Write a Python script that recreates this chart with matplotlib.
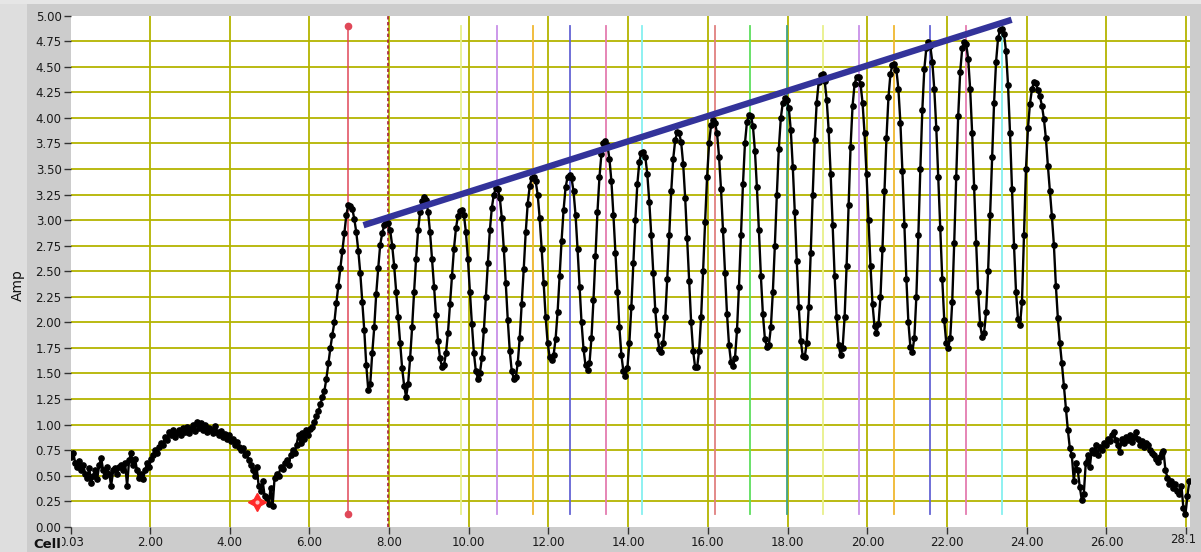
import numpy as np
import matplotlib.pyplot as plt
from matplotlib.patches import Rectangle

# waveform: first Cell value, spacing, then the Amp samples (one row = one Cell unit)
x0 = 0.03
dx = 0.05
amp = [
    0.68, 0.72, 0.62, 0.58, 0.64, 0.55, 0.60, 0.52, 0.48, 0.57, 0.43, 0.50, 0.55, 0.47, 0.60, 0.67, 0.55, 0.50, 0.58, 0.52,
    0.40, 0.55, 0.57, 0.52, 0.58, 0.60, 0.55, 0.62, 0.40, 0.65, 0.72, 0.60, 0.66, 0.55, 0.48, 0.52, 0.47, 0.55, 0.62, 0.58,
    0.66, 0.70, 0.75, 0.72, 0.78, 0.82, 0.80, 0.88, 0.85, 0.93, 0.90, 0.95, 0.88, 0.92, 0.95, 0.90, 0.97, 0.93, 0.98, 0.92,
    0.96, 1.00, 0.94, 1.02, 0.97, 1.01, 0.95, 1.00, 0.93, 0.97, 0.95, 0.92, 0.99, 0.93, 0.90, 0.94, 0.88, 0.91, 0.86, 0.90,
    0.84, 0.86, 0.80, 0.83, 0.78, 0.75, 0.77, 0.70, 0.72, 0.65, 0.60, 0.55, 0.50, 0.58, 0.40, 0.35, 0.45, 0.30, 0.28, 0.22,
    0.38, 0.20, 0.48, 0.52, 0.50, 0.58, 0.56, 0.62, 0.65, 0.60, 0.70, 0.75, 0.72, 0.80, 0.90, 0.82, 0.92, 0.86, 0.95, 0.90,
    0.96, 0.98, 1.02, 1.08, 1.13, 1.20, 1.27, 1.33, 1.45, 1.60, 1.75, 1.88, 2.00, 2.19, 2.36, 2.53, 2.70, 2.87, 3.05, 3.15,
    3.14, 3.11, 3.01, 2.88, 2.70, 2.48, 2.20, 1.92, 1.58, 1.34, 1.40, 1.70, 1.95, 2.28, 2.53, 2.76, 2.87, 2.95, 2.98, 2.97,
    2.90, 2.75, 2.55, 2.30, 2.05, 1.80, 1.55, 1.38, 1.27, 1.40, 1.65, 1.95, 2.30, 2.62, 2.90, 3.08, 3.19, 3.23, 3.20, 3.08,
    2.88, 2.62, 2.35, 2.07, 1.82, 1.65, 1.56, 1.58, 1.70, 1.90, 2.18, 2.45, 2.72, 2.92, 3.04, 3.09, 3.10, 3.05, 2.88, 2.62,
    2.30, 1.98, 1.70, 1.52, 1.45, 1.50, 1.65, 1.92, 2.25, 2.58, 2.90, 3.12, 3.25, 3.31, 3.30, 3.22, 3.02, 2.72, 2.38, 2.02,
    1.72, 1.52, 1.45, 1.46, 1.60, 1.85, 2.18, 2.52, 2.88, 3.16, 3.33, 3.41, 3.42, 3.38, 3.25, 3.02, 2.72, 2.38, 2.05, 1.80,
    1.66, 1.63, 1.68, 1.84, 2.10, 2.45, 2.80, 3.10, 3.32, 3.42, 3.44, 3.41, 3.28, 3.05, 2.72, 2.35, 2.00, 1.74, 1.58, 1.53,
    1.60, 1.85, 2.22, 2.65, 3.08, 3.42, 3.65, 3.75, 3.77, 3.73, 3.60, 3.38, 3.05, 2.68, 2.30, 1.95, 1.68, 1.52, 1.47, 1.55,
    1.80, 2.15, 2.58, 3.00, 3.35, 3.57, 3.66, 3.67, 3.62, 3.45, 3.18, 2.85, 2.48, 2.12, 1.88, 1.74, 1.71, 1.80, 2.05, 2.42,
    2.85, 3.28, 3.60, 3.78, 3.86, 3.85, 3.76, 3.55, 3.22, 2.82, 2.40, 2.00, 1.72, 1.56, 1.56, 1.72, 2.05, 2.50, 2.98, 3.42,
    3.75, 3.93, 3.98, 3.95, 3.85, 3.62, 3.30, 2.90, 2.48, 2.08, 1.78, 1.61, 1.57, 1.65, 1.92, 2.35, 2.85, 3.35, 3.75, 3.96,
    4.03, 4.02, 3.92, 3.68, 3.32, 2.90, 2.45, 2.08, 1.84, 1.76, 1.78, 1.95, 2.30, 2.75, 3.25, 3.70, 4.00, 4.15, 4.19, 4.18,
    4.10, 3.88, 3.52, 3.08, 2.60, 2.15, 1.82, 1.67, 1.66, 1.80, 2.15, 2.68, 3.25, 3.78, 4.15, 4.35, 4.42, 4.43, 4.36, 4.18,
    3.88, 3.45, 2.95, 2.45, 2.05, 1.78, 1.68, 1.75, 2.05, 2.55, 3.15, 3.72, 4.12, 4.33, 4.40, 4.40, 4.33, 4.15, 3.85, 3.45,
    3.00, 2.55, 2.18, 1.96, 1.90, 1.98, 2.25, 2.72, 3.28, 3.80, 4.20, 4.43, 4.52, 4.53, 4.47, 4.28, 3.95, 3.48, 2.95, 2.42,
    2.00, 1.76, 1.71, 1.85, 2.25, 2.85, 3.50, 4.08, 4.48, 4.68, 4.74, 4.70, 4.55, 4.28, 3.90, 3.42, 2.92, 2.42, 2.02, 1.80,
    1.75, 1.85, 2.20, 2.78, 3.42, 4.02, 4.45, 4.68, 4.74, 4.72, 4.58, 4.28, 3.85, 3.32, 2.78, 2.30, 1.98, 1.86, 1.90, 2.10,
    2.50, 3.05, 3.62, 4.15, 4.55, 4.78, 4.86, 4.87, 4.82, 4.65, 4.32, 3.85, 3.30, 2.75, 2.30, 2.03, 1.97, 2.20, 2.85, 3.50,
    3.90, 4.14, 4.28, 4.35, 4.34, 4.27, 4.21, 4.12, 3.99, 3.80, 3.53, 3.28, 3.04, 2.76, 2.36, 2.04, 1.80, 1.60, 1.38, 1.15,
    0.95, 0.77, 0.70, 0.45, 0.62, 0.55, 0.39, 0.26, 0.32, 0.62, 0.70, 0.58, 0.75, 0.72, 0.80, 0.70, 0.78, 0.75, 0.82, 0.80,
    0.86, 0.84, 0.90, 0.93, 0.85, 0.80, 0.73, 0.86, 0.82, 0.88, 0.85, 0.90, 0.83, 0.88, 0.93, 0.86, 0.80, 0.84, 0.78, 0.82,
    0.80, 0.75, 0.72, 0.70, 0.66, 0.63, 0.68, 0.72, 0.74, 0.55, 0.48, 0.42, 0.45, 0.38, 0.42, 0.35, 0.32, 0.40, 0.18, 0.12,
    0.30, 0.45,
]
cell = x0 + dx * np.arange(len(amp))

# cursors
red_cursor = 6.98
dashed_cursor = 7.98
cursor_x = [9.80, 10.70, 11.62, 12.54, 13.44, 14.34, 16.18, 17.06, 17.98,
            18.88, 19.79, 20.67, 21.57, 22.47, 23.39]
cursor_lo, cursor_hi = 0.12, 4.90
cursor_colors = ['#e8f08a', '#c890e8', '#f0b830', '#6464d4', '#e47cb0', '#86f0f0',
                 '#e08080', '#5ede5e', '#3fa488', '#e8f08a', '#c890e8', '#f0b830',
                 '#6464d4', '#e47cb0', '#86f0f0']

# envelope line drawn over the peaks
trend_x = [7.36, 23.62]
trend_y = [2.95, 4.96]

# red point marker
mark_x, mark_y = 4.70, 0.245

xticks = [0.03, 2, 4, 6, 8, 10, 12, 14, 16, 18, 20, 22, 24, 26]
xlabels = ['0.03'] + ['%.2f' % v for v in xticks[1:]]
yticks = np.arange(0, 5.01, 0.25)

fig = plt.figure(figsize=(12.01, 5.52), dpi=100, facecolor='#cccccc')
fig.patches.append(Rectangle((0, 0), 27 / 1201, 1, transform=fig.transFigure,
                             facecolor='#dedede', edgecolor='none', zorder=-1))
fig.patches.append(Rectangle((0, 548 / 552), 1, 4 / 552, transform=fig.transFigure,
                             facecolor='#e6e6e6', edgecolor='none', zorder=-1))

ax = fig.add_axes([71.3 / 1201, 25.3 / 552, (1190.2 - 71.3) / 1201, 511 / 552])
ax.set_facecolor('white')
ax.set_xlim(0.03, 28.1)
ax.set_ylim(0, 5)
for s in ax.spines.values():
    s.set_visible(False)

grid_c = '#b4b400'
for gx in range(2, 29, 2):
    ax.axvline(gx, color=grid_c, lw=1.3, zorder=1)
for gy in yticks[1:-1]:
    ax.axhline(gy, color=grid_c, lw=1.3, zorder=1)

# cursors
ax.plot([red_cursor, red_cursor], [cursor_lo, cursor_hi], color='#e04858', lw=1.1,
        marker='o', ms=4.5, zorder=2)
ax.axvline(dashed_cursor, color='#a8203c', lw=1.2, ls=(0, (2, 1.5)), zorder=2)
for cx, cc in zip(cursor_x, cursor_colors):
    ax.plot([cx, cx], [cursor_lo, cursor_hi], color=cc, lw=1.3, zorder=2)

ax.plot(cell, amp, color='black', lw=1.7, marker='o', ms=3.8, zorder=3)

ax.plot(trend_x, trend_y, color='#33339a', lw=4.6, solid_capstyle='butt', zorder=5)

ax.plot(mark_x, mark_y, marker=(4, 1, 0), ms=13, color='#ff2a2a', mec='#ff2a2a', zorder=6)
ax.plot(mark_x, mark_y, marker='o', ms=3, color='#ffc0c0', mec='none', zorder=7)

ax.set_yticks(yticks)
ax.set_yticklabels(['%.2f' % v for v in yticks])
ax.set_xticks(xticks + [28.0])
ax.set_xticklabels(xlabels + [''])
ax.tick_params(axis='both', direction='out', length=5, width=1, color='#333333',
               labelsize=8.5, labelcolor='#1a1a1a', pad=2)
ax.text(27.92, -0.06, '28.1', ha='center', va='top', fontsize=8.5, color='#1a1a1a',
        clip_on=False)

fig.text(33 / 1201, (552 - 544) / 552, 'Cell', fontsize=9.5, fontweight='bold',
         ha='left', va='center', color='#111111',
         bbox=dict(facecolor='#cccccc', edgecolor='none', pad=0.5))
fig.text(18 / 1201, (552 - 285) / 552, 'Amp', fontsize=10, rotation=90,
         ha='center', va='center', color='#111111')

fig.savefig('out.png', dpi=100, facecolor=fig.get_facecolor())
